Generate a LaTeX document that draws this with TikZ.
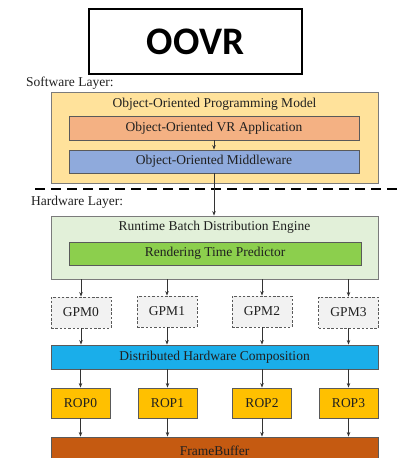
\documentclass[tikz,border=0pt]{standalone}
\usepackage{fontspec}
\setmainfont{Liberation Serif}
\newfontfamily\titlefont{Carlito}
\usetikzlibrary{arrows.meta}

\definecolor{swfill}{HTML}{FFE29B}
\definecolor{appfill}{HTML}{F4B183}
\definecolor{midfill}{HTML}{8FAADC}
\definecolor{hwfill}{HTML}{E2F0D9}
\definecolor{predfill}{HTML}{8CCF4D}
\definecolor{gpmfill}{HTML}{F2F2F2}
\definecolor{dhcfill}{HTML}{1AAEEA}
\definecolor{ropfill}{HTML}{FFC000}
\definecolor{fbfill}{HTML}{C55A11}
\definecolor{edge}{HTML}{5A5A5A}
\definecolor{txt}{HTML}{202020}

\tikzset{
  box/.style={draw=edge, line width=0.9pt, inner sep=0pt, text=txt,
    font=\fontsize{13.5}{15}\selectfont},
  layerbox/.style={box, draw=edge!80},
  gpmbox/.style={box, fill=gpmfill, dashed, dash pattern=on 2.5pt off 1.8pt,
    minimum width=60pt, minimum height=31pt},
  ropbox/.style={box, fill=ropfill, minimum width=59pt, minimum height=30pt},
  layerlabel/.style={anchor=west, inner sep=0pt, text=txt,
    font=\fontsize{13.5}{15}\selectfont},
  arr/.style={draw=black!80, line width=0.8pt,
    -{Stealth[length=4.5pt,width=3.5pt]}},
}

\begin{document}
\begin{tikzpicture}[x=1pt, y=-1pt]
\useasboundingbox (0,0) rectangle (398,458);
\begin{scope}
\clip (0,0) rectangle (398,458);

% title
\node[draw=black, line width=2pt, minimum width=213pt, minimum height=65pt,
  font=\titlefont\bfseries\fontsize{39}{42}\selectfont] (title) at (195.5,41.5) {OOVR};

% software layer
\node[layerlabel] (swlabel) at (26,83) {Software Layer:};
\node[layerbox, fill=swfill, minimum width=327pt, minimum height=91pt] (sw) at (214.5,137.5) {};
\node[inner sep=0pt, text=txt, font=\fontsize{13.5}{15}\selectfont] (swtitle) at (214.5,104) {Object-Oriented Programming Model};
\node[box, fill=appfill, minimum width=290pt, minimum height=24pt] (app) at (214,128) {Object-Oriented VR Application};
\node[box, fill=midfill, minimum width=290pt, minimum height=23pt] (mid) at (214,161.5) {Object-Oriented Middleware};

% layer separator
\coordinate (sepL) at (35,189);
\coordinate (sepR) at (400,189);
\draw[line width=2.4pt, dash pattern=on 10pt off 6pt] (sepL) -- (sepR);

% hardware layer
\node[layerlabel] (hwlabel) at (31,202) {Hardware Layer:};
\node[layerbox, fill=hwfill, minimum width=327pt, minimum height=63pt] (hw) at (214.5,247.5) {};
\node[inner sep=0pt, text=txt, font=\fontsize{13.5}{15}\selectfont] (hwtitle) at (214.5,227) {Runtime Batch Distribution Engine};
\node[box, fill=predfill, minimum width=292pt, minimum height=23pt] (pred) at (215,253.5) {Rendering Time Predictor};

% graphics processing modules
\node[gpmbox] (gpm0) at (81,312.5) {GPM0};
\node[gpmbox] (gpm1) at (167,311.5) {GPM1};
\node[gpmbox] (gpm2) at (262,311.5) {GPM2};
\node[gpmbox] (gpm3) at (348.5,312.5) {GPM3};

\node[box, fill=dhcfill, minimum width=327pt, minimum height=24pt] (dhc) at (214.5,357) {Distributed Hardware Composition};

% raster operation units
\node[ropbox] (rop0) at (80.5,403) {ROP0};
\node[ropbox] (rop1) at (167.5,403) {ROP1};
\node[ropbox] (rop2) at (262,403) {ROP2};
\node[ropbox] (rop3) at (348.5,403) {ROP3};

\node[box, fill=fbfill, minimum width=327pt, minimum height=28pt] (fb) at (214.5,451) {FrameBuffer};

% data flow
\draw[arr] (app.south) -- (mid.north);
\draw[arr] (mid.south) -- (mid.south |- hw.north);
\foreach \i in {0,1,2,3}{
  \draw[arr] (gpm\i.north |- hw.south) -- (gpm\i.north);
  \draw[arr] (gpm\i.south) -- (gpm\i.south |- dhc.north);
  \draw[arr] (rop\i.north |- dhc.south) -- (rop\i.north);
  \draw[arr] (rop\i.south) -- (rop\i.south |- fb.north);
}
\end{scope}
\end{tikzpicture}
\end{document}
